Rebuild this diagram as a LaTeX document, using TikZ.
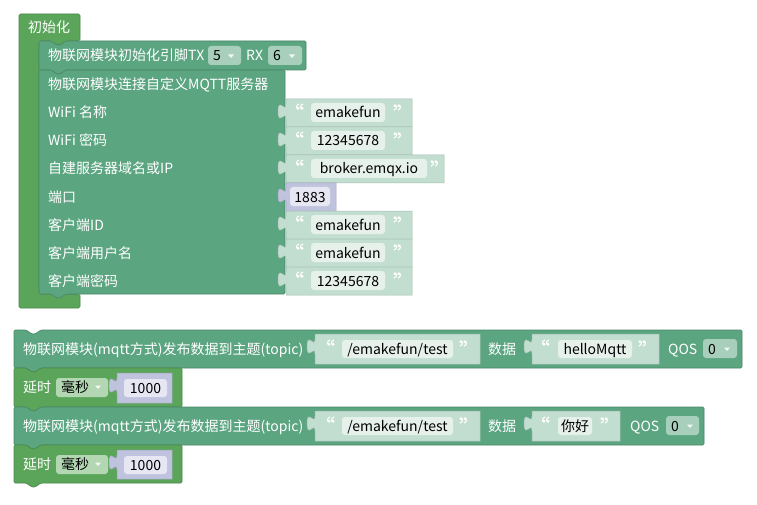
\documentclass[tikz,border=0pt]{standalone}
\usepackage{fontspec}
\setmainfont{Noto Sans CJK SC}
\definecolor{gG}{HTML}{5BA55B}
\definecolor{gT}{HTML}{5BA580}
\definecolor{sL}{HTML}{C2DED1}
\definecolor{fW}{HTML}{E7F1EC}
\definecolor{nL}{HTML}{C0C3DE}
\definecolor{nF}{HTML}{E6E7F3}
\definecolor{dT}{HTML}{A8CFBC}
\definecolor{dG}{HTML}{B3D7B3}
\usetikzlibrary{calc}
\tikzset{
  lbl/.style={anchor=base west,text=white,font=\fontsize{14}{15}\selectfont,inner sep=0pt},
  fld/.style={anchor=base,text=black,font=\fontsize{14}{15}\selectfont,inner sep=0pt},
}
% statement block: color, x1, y1, x2, y2
\newcommand\stmtblk[5]{%
  \pgfmathsetmacro\nA{#2+12}\pgfmathsetmacro\nB{#2+18}\pgfmathsetmacro\nC{#2+21}\pgfmathsetmacro\nD{#2+27}%
  \pgfmathsetmacro\yT{#3+4}\pgfmathsetmacro\yB{#5+4}%
  \path[fill=#1,draw=#1!82!black,line width=.6pt,rounded corners=1.2pt]
    (#2,#3) -- (\nA,#3) -- (\nB,\yT) -- (\nC,\yT) -- (\nD,#3) -- (#4,#3) -- (#4,#5)
    -- (\nD,#5) -- (\nC,\yB) -- (\nB,\yB) -- (\nA,#5) -- (#2,#5) -- cycle;}
% value block with left tab: color, x1, y1, x2, y2
\newcommand\valblk[5]{%
  \pgfmathsetmacro\tA{#3+5}\pgfmathsetmacro\tB{#3+15}\pgfmathsetmacro\tC{#3-3}%
  \pgfmathsetmacro\tD{#3+12.5}\pgfmathsetmacro\tE{#3+28}\pgfmathsetmacro\tF{#3+10}%
  \pgfmathsetmacro\tG{#3+20}\pgfmathsetmacro\xL{#2-8}%
  \path[fill=#1,draw=#1!85!black,line width=.5pt]
    (#2,#3) -- (#4,#3) -- (#4,#5) -- (#2,#5) -- (#2,\tG)
    .. controls (#2,\tF) and (\xL,\tE) .. (\xL,\tD)
    .. controls (\xL,\tC) and (#2,\tB) .. (#2,\tA) -- cycle;}
% field box: color, x1, y1, x2, y2
\newcommand\fldbox[5]{\path[fill=#1,rounded corners=3pt] (#2,#3) rectangle (#4,#5);}
% dropdown arrow at x, y(center)
\newcommand\ddarrow[2]{\path[fill=white,fill opacity=.85] ($(#1,#2)+(-3,-1.5)$) -- ($(#1,#2)+(3,-1.5)$) -- ($(#1,#2)+(0,2)$) -- cycle;}
% opening quote "66" centred at x,y
\newcommand\qopen[2]{%
  \foreach \dx in {-2,2}{%
    \fill[white] ($(#1,#2)+(\dx,1.2)$) circle (1.6);
    \draw[white,line width=1.1pt] ($(#1,#2)+(\dx,0)+(-1.4,1.2)$) .. controls ($(#1,#2)+(\dx,0)+(-1.4,-1.7)$) .. ($(#1,#2)+(\dx,0)+(1,-3.1)$);}}
% closing quote "99" centred at x,y
\newcommand\qclose[2]{%
  \foreach \dx in {-2,2}{%
    \fill[white] ($(#1,#2)+(\dx,-1.2)$) circle (1.6);
    \draw[white,line width=1.1pt] ($(#1,#2)+(\dx,0)+(1.4,-1.2)$) .. controls ($(#1,#2)+(\dx,0)+(1.4,1.7)$) .. ($(#1,#2)+(\dx,0)+(-1,3.1)$);}}
\begin{document}
\begin{tikzpicture}[x=1pt,y=-1pt]
\useasboundingbox (0,0) rectangle (757,505);
\fill[white] (0,0) rectangle (757,505);

% ---------- init block ----------
\path[fill=gG,draw=gG!82!black,line width=.6pt,rounded corners=1.5pt]
  (19,14) -- (80,14) -- (80,41) -- (66,41) -- (60,45) -- (57,45) -- (51,41) -- (39,41)
  -- (39,294) -- (80,294) -- (80,308) -- (19,308) -- cycle;
\node[lbl] (init) at (28,32.5) {初始化};

\stmtblk{gT}{39}{41}{306}{70}
\node[lbl] (pins) at (48,61) {物联网模块初始化引脚TX};
\fldbox{dT}{208}{46}{241}{65}
\node[fld,anchor=base west] (tx) at (213,61) {5};
\ddarrow{231}{56}
\node[lbl] (rx) at (246,61) {RX};
\fldbox{dT}{268}{46}{302}{65}
\node[fld,anchor=base west] (rxv) at (273,61) {6};
\ddarrow{292}{56}

\stmtblk{gT}{39}{70}{285}{294}
\node[lbl] (conn) at (48,90) {物联网模块连接自定义MQTT服务器};
\node[lbl] (l1) at (48,118) {WiFi 名称};
\node[lbl] (l2) at (48,146) {WiFi 密码};
\node[lbl] (l3) at (48,174) {自建服务器域名或IP};
\node[lbl] (l4) at (48,202) {端口};
\node[lbl] (l5) at (48,230) {客户端ID};
\node[lbl] (l6) at (48,258) {客户端用户名};
\node[lbl] (l7) at (48,286) {客户端密码};

% string inputs
\valblk{sL}{286}{99}{412}{127}
\fldbox{fW}{311}{103}{385}{122}
\qopen{300}{107}
\node[fld] (v1) at (348,118) {emakefun};
\qclose{397}{107}

\valblk{sL}{286}{127}{412}{155}
\fldbox{fW}{311}{131}{385}{150}
\qopen{300}{135}
\node[fld] (v2) at (348,146) {12345678};
\qclose{397}{135}

\valblk{sL}{286}{155}{444}{183}
\fldbox{fW}{311}{159}{427}{178}
\qopen{300}{163}
\node[fld] (v3) at (369,174) {broker.emqx.io};
\qclose{434}{163}

\valblk{nL}{286}{183}{336}{211}
\fldbox{nF}{290}{187}{330}{206}
\node[fld] (v4) at (310,202) {1883};

\valblk{sL}{286}{211}{412}{239}
\fldbox{fW}{311}{215}{385}{234}
\qopen{300}{219}
\node[fld] (v5) at (348,230) {emakefun};
\qclose{397}{219}

\valblk{sL}{286}{239}{412}{267}
\fldbox{fW}{311}{243}{385}{262}
\qopen{300}{247}
\node[fld] (v6) at (348,258) {emakefun};
\qclose{397}{247}

\valblk{sL}{286}{267}{412}{295}
\fldbox{fW}{311}{271}{385}{290}
\qopen{300}{275}
\node[fld] (v7) at (348,286) {12345678};
\qclose{397}{275}

% ---------- publish 1 ----------
\stmtblk{gT}{14}{330}{742}{368}
\node[lbl] (p1) at (23,354) {物联网模块(mqtt方式)发布数据到主题(topic)};
\valblk{sL}{315}{334}{480}{364}
\fldbox{fW}{342}{340}{453}{358}
\qopen{331}{343}
\node[fld] (p1t) at (397.5,354) {/emakefun/test};
\qclose{463}{343}
\node[lbl] (p1d) at (488,354) {数据};
\valblk{sL}{532}{334}{659}{364}
\fldbox{fW}{558}{340}{632}{358}
\qopen{546}{343}
\node[fld] (p1v) at (595,354) {helloMqtt};
\qclose{642}{343}
\node[lbl] (p1q) at (668,354) {QOS};
\fldbox{dT}{703}{339}{737}{358}
\node[fld,anchor=base west] (p1qv) at (708,354) {0};
\ddarrow{727}{349}

% ---------- delay 1 ----------
\stmtblk{gG}{14}{368}{182}{407}
\node[lbl] (d1) at (23,392) {延时};
\fldbox{dG}{56}{378}{108}{397}
\node[fld,anchor=base west] (d1u) at (61,392) {毫秒};
\ddarrow{98}{387}
\valblk{nL}{117}{373}{172}{403}
\fldbox{nF}{124}{379}{167}{397}
\node[fld] (d1v) at (145.5,393) {1000};

% ---------- publish 2 ----------
\stmtblk{gT}{14}{407}{704}{445}
\node[lbl] (p2) at (23,431) {物联网模块(mqtt方式)发布数据到主题(topic)};
\valblk{sL}{315}{411}{480}{441}
\fldbox{fW}{342}{417}{453}{435}
\qopen{331}{420}
\node[fld] (p2t) at (397.5,431) {/emakefun/test};
\qclose{463}{420}
\node[lbl] (p2d) at (488,431) {数据};
\valblk{sL}{532}{411}{620}{441}
\fldbox{fW}{558}{417}{592}{435}
\qopen{546}{420}
\node[fld] (p2v) at (575,431) {你好};
\qclose{604}{420}
\node[lbl] (p2q) at (630,431) {QOS};
\fldbox{dT}{666}{416}{699}{435}
\node[fld,anchor=base west] (p2qv) at (671,431) {0};
\ddarrow{690}{426}

% ---------- delay 2 ----------
\stmtblk{gG}{14}{445}{182}{483}
\node[lbl] (d2) at (23,469) {延时};
\fldbox{dG}{56}{455}{108}{474}
\node[fld,anchor=base west] (d2u) at (61,469) {毫秒};
\ddarrow{98}{464}
\valblk{nL}{117}{450}{172}{479}
\fldbox{nF}{124}{456}{167}{474}
\node[fld] (d2v) at (145.5,470) {1000};
\end{tikzpicture}
\end{document}
